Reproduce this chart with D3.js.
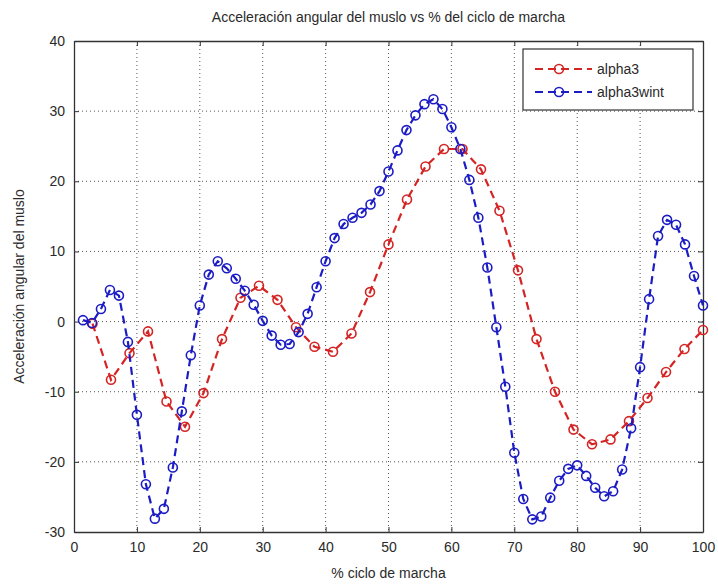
<!DOCTYPE html>
<html><head><meta charset="utf-8">
<script src="https://cdn.jsdelivr.net/npm/d3@7"></script>
<style>
html,body{margin:0;padding:0;background:#fff;}
text{font-family:"Liberation Sans",Arial,sans-serif;fill:#2a2a2a;}
</style></head>
<body><svg id="c" width="718" height="584"></svg>
<script>
const title = "Acceleración angular del muslo vs % del ciclo de marcha";
const xLabel = "% ciclo de marcha";
const yLabel = "Acceleración angular del muslo";
const xTicks = [0,10,20,30,40,50,60,70,80,90,100];
const yTicks = [-30,-20,-10,0,10,20,30,40];
const seriesNames = ["alpha3","alpha3wint"];
// alpha3: 34 samples across the cycle (x = 100*i/34)
const alpha3 = [-0.3,-8.3,-4.5,-1.4,-11.4,-15.0,-10.2,-2.5,3.4,5.1,3.1,-0.8,-3.6,-4.3,-1.7,4.2,11.0,17.4,22.1,24.6,24.6,21.7,15.8,7.3,-2.5,-10.0,-15.4,-17.5,-16.8,-14.2,-10.9,-7.2,-3.9,-1.2];
// alpha3wint: 70 samples across the cycle (x = 100*i/70)
const alpha3wint = [0.2,-0.2,1.8,4.5,3.7,-2.9,-13.3,-23.2,-28.1,-26.7,-20.8,-12.8,-4.8,2.3,6.7,8.6,7.6,6.1,4.4,2.4,0.1,-2.0,-3.3,-3.2,-1.5,1.1,4.9,8.6,11.9,13.9,14.8,15.5,16.7,18.6,21.4,24.4,27.3,29.4,31.0,31.7,30.3,27.7,24.6,20.2,14.8,7.7,-0.8,-9.3,-18.7,-25.3,-28.2,-27.8,-25.1,-22.7,-21.0,-20.5,-22.0,-23.7,-24.9,-24.2,-21.1,-15.2,-6.5,3.2,12.2,14.5,13.8,11.0,6.5,2.3];
const colors = ["#d42424","#1c1cc4"];

const svg = d3.select("#c");
const L=74,R=703,T=41,B=532;
const x = d3.scaleLinear().domain([0,100]).range([L,R]);
const y = d3.scaleLinear().domain([-30,40]).range([B,T]);
const fmt = d => String(d);

// grid
const g = svg.append("g");
g.selectAll(".gx").data(xTicks.filter(d=>d>0&&d<100)).enter().append("line")
 .attr("x1",d=>x(d)).attr("x2",d=>x(d)).attr("y1",T).attr("y2",B)
 .attr("stroke","#555").attr("stroke-width",1).attr("stroke-dasharray","1,3");
g.selectAll(".gy").data(yTicks.filter(d=>d>-30&&d<40)).enter().append("line")
 .attr("y1",d=>y(d)).attr("y2",d=>y(d)).attr("x1",L).attr("x2",R)
 .attr("stroke","#555").attr("stroke-width",1).attr("stroke-dasharray","1,3");

// axes
const ax = svg.append("g").attr("transform",`translate(0,${B})`)
 .call(d3.axisBottom(x).tickValues(xTicks).tickFormat(fmt).tickSizeInner(-5).tickSizeOuter(0).tickPadding(10));
const axT = svg.append("g").attr("transform",`translate(0,${T})`)
 .call(d3.axisTop(x).tickValues(xTicks).tickSizeInner(-5).tickSizeOuter(0).tickFormat(""));
const ay = svg.append("g").attr("transform",`translate(${L},0)`)
 .call(d3.axisLeft(y).tickValues(yTicks).tickFormat(fmt).tickSizeInner(-5).tickSizeOuter(0).tickPadding(9));
const ayR = svg.append("g").attr("transform",`translate(${R},0)`)
 .call(d3.axisRight(y).tickValues(yTicks).tickSizeInner(-5).tickSizeOuter(0).tickFormat(""));
[ax,axT,ay,ayR].forEach(a=>{
  a.select(".domain").attr("stroke","#333").attr("stroke-width",1.3);
  a.selectAll(".tick line").attr("stroke","#333");
  a.selectAll("text").attr("font-size",14).attr("fill","#2a2a2a")
   .attr("font-family","'Liberation Sans',Arial,sans-serif");
});
ax.selectAll("text").attr("dy","0.7em");

// series
const sets = [
  alpha3.map((v,i)=>[100*(i+1)/alpha3.length, v]),
  alpha3wint.map((v,i)=>[100*(i+1)/alpha3wint.length, v])
];
const line = d3.line().x(d=>x(d[0])).y(d=>y(d[1])).curve(d3.curveLinear);
sets.forEach((s,k)=>{
  svg.append("path").datum(s).attr("d",line).attr("fill","none")
   .attr("stroke",colors[k]).attr("stroke-width",2.2).attr("stroke-dasharray","8,5");
  svg.append("g").selectAll("circle").data(s).enter().append("circle")
   .attr("cx",d=>x(d[0])).attr("cy",d=>y(d[1])).attr("r",4.5)
   .attr("fill","none").attr("stroke",colors[k]).attr("stroke-width",1.6);
});

// legend
const lg = svg.append("g");
lg.append("rect").attr("x",523).attr("y",49).attr("width",170).attr("height",61)
 .attr("fill","#fff").attr("stroke","#333").attr("stroke-width",1.2);
seriesNames.forEach((n,k)=>{
  const yy = 69 + k*23;
  lg.append("line").attr("x1",535).attr("x2",592).attr("y1",yy).attr("y2",yy)
   .attr("stroke",colors[k]).attr("stroke-width",2.2).attr("stroke-dasharray","8,5");
  lg.append("circle").attr("cx",559).attr("cy",yy).attr("r",4.5)
   .attr("fill","none").attr("stroke",colors[k]).attr("stroke-width",1.6);
  lg.append("text").attr("x",597).attr("y",yy).attr("dy","0.35em")
   .attr("font-size",14).text(n);
});

// titles
svg.append("text").attr("x",(L+R)/2).attr("y",22).attr("text-anchor","middle")
 .attr("font-size",14).text(title);
svg.append("text").attr("x",(L+R)/2).attr("y",578).attr("text-anchor","middle")
 .attr("font-size",14).text(xLabel);
svg.append("text").attr("transform",`translate(24,${(T+B)/2}) rotate(-90)`)
 .attr("text-anchor","middle").attr("font-size",14).text(yLabel);
</script></body></html>
